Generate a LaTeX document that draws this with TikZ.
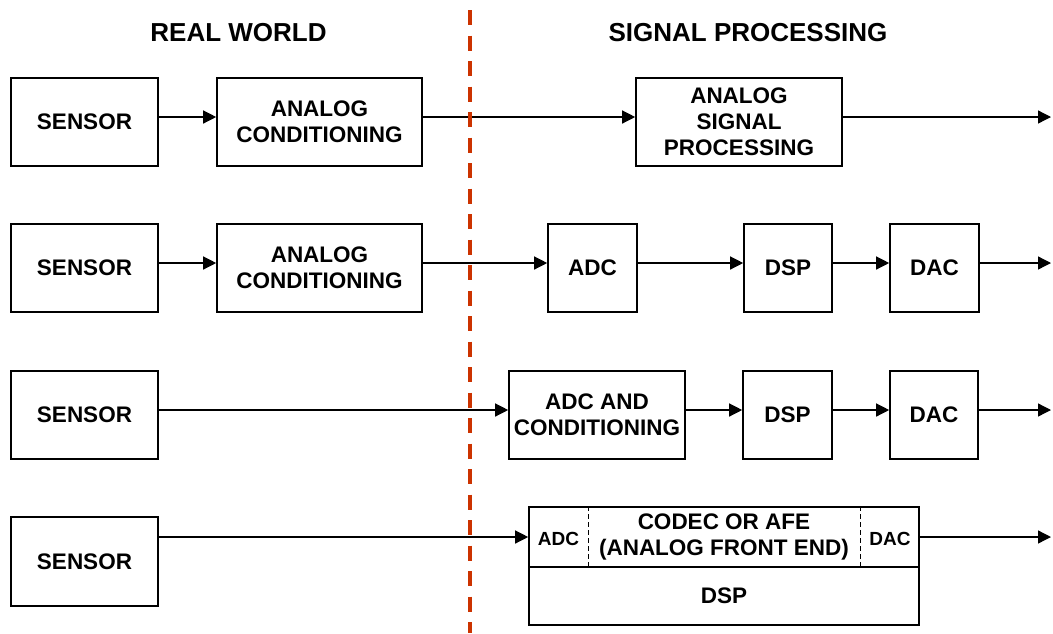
\documentclass[tikz,border=0pt]{standalone}
\usepackage{fontspec}
\setmainfont{Liberation Sans}
\usetikzlibrary{arrows.meta}
\definecolor{cutred}{RGB}{204,51,0}

\begin{document}
\begin{tikzpicture}[x=1pt,y=-1pt]
\tikzstyle{every node}=[font=\bfseries\fontsize{22.5}{26}\selectfont]
\tikzstyle{blk}=[draw,line width=1.6pt,inner sep=0pt,minimum height=88pt,align=center]
\tikzstyle{arr}=[line width=1.3pt,-{Triangle[length=13pt,width=13pt]}]
\tikzstyle{divider}=[line width=1.1pt,dash pattern=on 5pt off 3pt]
\useasboundingbox (0,0) rectangle (1053,633);
\node (rw) at (238.5,32.5) {\fontsize{26}{30}\selectfont REAL WORLD};
\node (sp) at (748,32.5) {\fontsize{26}{30}\selectfont SIGNAL PROCESSING};
% analog path
\node[blk,minimum width=147pt] (s1) at (84.5,122) {SENSOR};
\node[blk,minimum width=205pt] (ac1) at (319.5,122) {ANALOG\\CONDITIONING};
\node[blk,minimum width=206pt] (asp) at (739,122) {ANALOG\\SIGNAL\\PROCESSING};
\coordinate (out1) at (1051,117);
\draw[arr] ([yshift=5pt]s1.east) -- ([yshift=5pt]ac1.west);
\draw[arr] ([yshift=5pt]ac1.east) -- ([yshift=5pt]asp.west);
\draw[arr] ([yshift=5pt]asp.east) -- (out1);
% adc, dsp, dac
\node[blk,minimum width=147pt] (s2) at (84.5,268) {SENSOR};
\node[blk,minimum width=205pt] (ac2) at (319.5,268) {ANALOG\\CONDITIONING};
\node[blk,minimum width=89pt] (adc2) at (592.5,268) {ADC};
\node[blk,minimum width=88pt] (dsp2) at (788,268) {DSP};
\node[blk,minimum width=89pt] (dac2) at (934.5,268) {DAC};
\coordinate (out2) at (1051,263);
\draw[arr] ([yshift=5pt]s2.east) -- ([yshift=5pt]ac2.west);
\draw[arr] ([yshift=5pt]ac2.east) -- ([yshift=5pt]adc2.west);
\draw[arr] ([yshift=5pt]adc2.east) -- ([yshift=5pt]dsp2.west);
\draw[arr] ([yshift=5pt]dsp2.east) -- ([yshift=5pt]dac2.west);
\draw[arr] ([yshift=5pt]dac2.east) -- (out2);
% adc with conditioning
\node[blk,minimum width=147pt] (s3) at (84.5,415) {SENSOR};
\node[blk,minimum width=176pt] (adcc) at (597,415) {ADC AND\\CONDITIONING};
\node[blk,minimum width=89pt] (dsp3) at (787.5,415) {DSP};
\node[blk,minimum width=88pt] (dac3) at (934,415) {DAC};
\coordinate (out3) at (1051,410);
\draw[arr] ([yshift=5pt]s3.east) -- ([yshift=5pt]adcc.west);
\draw[arr] ([yshift=5pt]adcc.east) -- ([yshift=5pt]dsp3.west);
\draw[arr] ([yshift=5pt]dsp3.east) -- ([yshift=5pt]dac3.west);
\draw[arr] ([yshift=5pt]dac3.east) -- (out3);
% codec / afe
\node[blk,minimum width=147pt,minimum height=89pt] (s4) at (84.5,561.5) {SENSOR};
\node[blk,minimum width=390pt,minimum height=60pt] (afe) at (724,537) {CODEC OR AFE\\(ANALOG FRONT END)};
\node[blk,minimum width=390pt,minimum height=58pt] (dsp4) at (724,596) {DSP};
\node[inner sep=0pt,minimum width=59pt,minimum height=60pt,font=\bfseries\fontsize{19}{22}\selectfont] (adc4) at (558.5,539) {ADC};
\node[inner sep=0pt,minimum width=58pt,minimum height=60pt,font=\bfseries\fontsize{19}{22}\selectfont] (dac4) at (890,539) {DAC};
\draw[divider] (adc4.east |- afe.north) -- (adc4.east |- afe.south);
\draw[divider] (dac4.west |- afe.north) -- (dac4.west |- afe.south);
\coordinate (out4) at (1051,537);
\draw[arr] (s4.east |- afe.west) -- (afe.west);
\draw[arr] (afe.east) -- (out4);
% border between the two worlds
\draw[cutred,line width=4pt,dash pattern=on 15pt off 10.5pt] (470,10) -- (470,633);
\end{tikzpicture}
\end{document}
